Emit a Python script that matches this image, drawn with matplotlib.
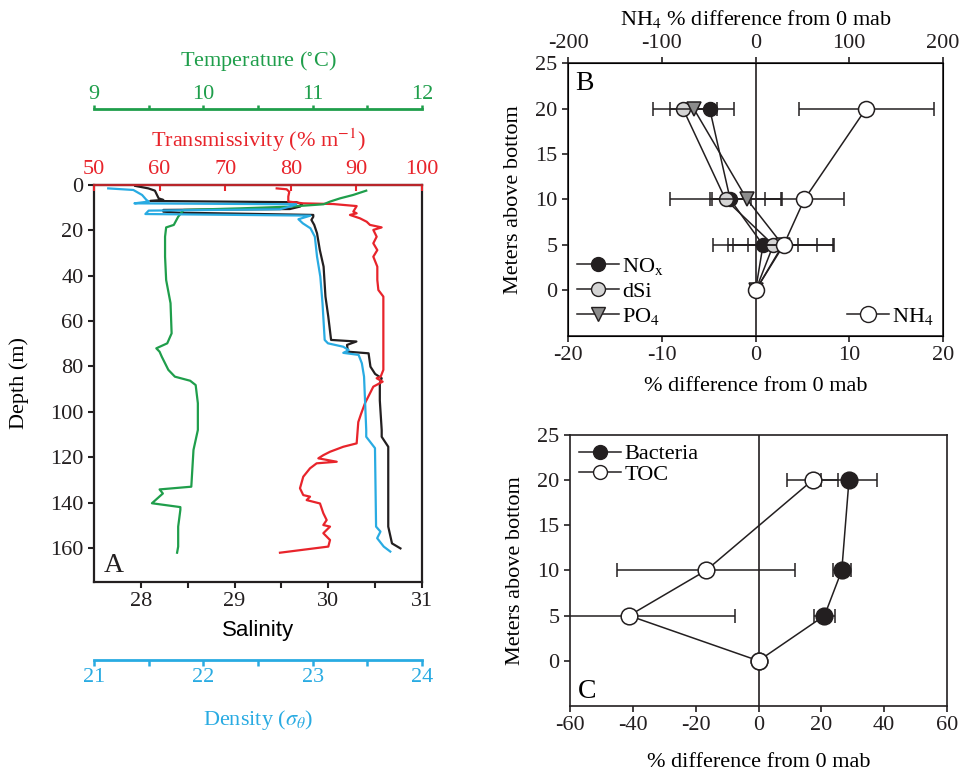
import numpy as np
import matplotlib
matplotlib.use('Agg')
import matplotlib.pyplot as plt
from matplotlib.lines import Line2D

plt.rcParams['font.family'] = ['Liberation Serif', 'DejaVu Serif']
plt.rcParams['mathtext.fontset'] = 'stix'
plt.rcParams['font.size'] = 16
plt.rcParams['axes.unicode_minus'] = False

# ---------------- Panel A data (depth in m) ----------------
sal_depth = [0.4, 1.5, 2.5, 5.9, 6.6, 7.05, 7.6, 8.5, 9.5, 10.6, 11.0, 11.75, 12.2, 13.2, 14.0,
             15.4, 17.6, 21.3, 28.7, 36.0, 49.2, 58.0, 68.3, 69.0, 70.5, 73.5, 74.2, 80.1, 83.3,
             85.2, 87.4, 95.0, 108.0, 111.0, 115.4, 150.6, 158.0, 160.2]
salinity = [27.94, 28.08, 28.15, 28.19, 28.24, 28.10, 29.66, 29.72, 29.70, 29.59, 28.24, 28.24, 28.40,
            29.84, 29.84, 29.82, 29.85, 29.88, 29.91, 29.95, 29.97, 30.00, 30.03, 30.30, 30.20, 30.21,
            30.43, 30.45, 30.50, 30.57, 30.55, 30.55, 30.57, 30.57, 30.64, 30.64, 30.68, 30.77]

dens_depth = [1.5, 2.2, 4.4, 6.6, 7.3, 8.1, 8.5, 9.55, 10.7, 11.3, 12.8, 13.5, 15.1, 16.9, 19.1,
              22.8, 31.6, 40.4, 52.1, 68.3, 69.8, 71.3, 72.8, 74.0, 74.9, 78.6, 84.5, 96.2, 108.0,
              111.0, 116.0, 150.6, 152.8, 155.7, 159.4, 161.6]
density = [21.13, 21.36, 21.44, 21.48, 21.50, 21.37, 22.85, 22.79, 22.70, 21.50, 21.47, 22.98, 22.87,
           22.91, 22.98, 23.02, 23.04, 23.07, 23.09, 23.11, 23.14, 23.28, 23.33, 23.28, 23.42, 23.45,
           23.47, 23.48, 23.49, 23.49, 23.57, 23.58, 23.62, 23.59, 23.65, 23.71]

trans_depth = [1.5, 1.9, 3.0, 5.1, 7.3, 8.1, 8.4, 9.3, 11.75, 12.5, 13.2, 14.7, 16.2, 17.6, 18.7,
               19.8, 22.8, 25.7, 28.7, 31.6, 36.0, 41.9, 46.3, 49.2, 81.5, 84.5, 85.2, 86.7, 88.9,
               96.2, 101.0, 104.5, 113.9, 115.4, 117.6, 119.1, 120.5, 122.0, 122.7, 124.9, 128.6,
               133.7, 136.7, 137.4, 138.9, 140.4, 144.7, 147.7, 149.9, 150.6, 153.5, 156.5, 159.4, 162.1]
transmissivity = [77.85, 79.37, 79.77, 79.62, 79.62, 81.9, 86.48, 90.04, 89.53, 90.04, 89.02, 90.55,
                  91.57, 92.07, 93.85, 92.58, 93.09, 92.58, 93.19, 92.58, 93.19, 93.19, 93.35, 94.11,
                  94.11, 93.7, 93.09, 94.0, 92.58, 91.31, 90.7, 90.29, 90.04, 88.0, 85.98, 84.96, 84.2,
                  87.0, 83.94, 82.93, 81.9, 81.4, 81.9, 82.93, 82.42, 84.45, 84.96, 85.47, 84.96, 85.98,
                  84.96, 85.98, 85.72, 78.35]

temp_depth = [2.5, 4.4, 5.9, 7.3, 8.5, 9.55, 10.3, 11.0, 14.0, 17.6, 18.7, 22.8, 31.6, 41.9, 52.1,
              65.4, 69.8, 72.0, 73.5, 75.7, 81.5, 84.5, 86.3, 88.2, 96.2, 108.0, 116.8, 133.0, 134.2,
              136.0, 140.3, 142.0, 143.2, 150.6, 159.4, 162.1]
temperature = [11.49, 11.37, 11.25, 11.16, 11.10, 10.79, 10.34, 9.82, 9.77, 9.73, 9.66, 9.65, 9.65,
               9.66, 9.70, 9.71, 9.67, 9.57, 9.60, 9.62, 9.68, 9.74, 9.88, 9.93, 9.95, 9.95, 9.91,
               9.89, 9.60, 9.63, 9.53, 9.79, 9.79, 9.77, 9.77, 9.76]

# ---------------- Panel B data ----------------
mab_b = [0, 5, 10, 20]
nox = [0, 0.8, -2.7, -4.9]
nox_err = [0, 3.7, 2.2, 2.55]
dsi = [0, 1.9, -3.2, -7.75]
dsi_err = [0, 6.4, 5.9, 3.15]
po4 = [0, 2.9, -0.9, -6.6]
po4_err = [0, 3.7, 3.7, 2.5]
nh4 = [0, 30, 52, 118]
nh4_err = [0, 54, 42, 72]

# ---------------- Panel C data ----------------
mab_c = [0, 5, 10, 20]
bacteria = [0, 21.0, 26.5, 28.8]
bacteria_err = [0, 3.3, 2.9, 8.9]
toc = [0, -41.2, -16.7, 17.2]
toc_err = [0, 33.8, 28.3, 8.2]

BLACK = '#231f20'
BLUE = '#29abe2'
RED = '#e8242b'
GREEN = '#1f9e4b'

fig = plt.figure(figsize=(9.73, 7.74), dpi=100)

# ======== Panel A ========
ax = fig.add_axes([0.0966, 0.2481, 0.3371, 0.5129])
ax.set_xlim(27.5, 31)
ax.set_ylim(175, 0)
ax.set_xticks([28, 29, 30, 31])
ax.set_xticks([28.5, 29.5, 30.5], minor=True)
ax.set_yticks(list(range(0, 161, 20)))
ax.tick_params(axis='both', which='both', direction='out', length=4, width=1.5, colors=BLACK)
ax.tick_params(axis='x', pad=3)
for s in ax.spines.values():
    s.set_linewidth(1.6)
    s.set_color(BLACK)
ax.set_xlabel('Salinity', family=['Liberation Sans', 'DejaVu Sans'], labelpad=7)
ax.set_ylabel('Depth (m)', labelpad=15)
ax.plot(salinity, sal_depth, color=BLACK, lw=1.6, zorder=3)
ax.text(0.03, 0.025, 'A', transform=ax.transAxes, fontsize=20, color=BLACK)

# transmissivity (top, red)
ax_t = ax.twiny()
ax_t.set_xlim(50, 100)
ax_t.set_xticks(list(range(50, 101, 10)))
ax_t.tick_params(axis='x', colors=RED, direction='in', length=4, width=1.5, pad=4)
ax_t.spines['top'].set_color('#b8252a')
ax_t.spines['top'].set_linewidth(1.6)
for k in ['left', 'right', 'bottom']:
    ax_t.spines[k].set_visible(False)
ax_t.set_xlabel('Transmissivity (% m$^{-1}$)', color=RED, labelpad=10)
ax_t.plot(transmissivity, trans_depth, color=RED, lw=1.6)

# temperature (detached top axis, green)
ax_tp = ax.twiny()
ax_tp.set_xlim(9, 12)
ax_tp.set_xticks([9, 10, 11, 12])
ax_tp.set_xticks([9.5, 10.5, 11.5], minor=True)
ax_tp.spines['top'].set_position(('outward', 55))
ax_tp.spines['top'].set_color(GREEN)
ax_tp.spines['top'].set_linewidth(2.0)
for k in ['left', 'right', 'bottom']:
    ax_tp.spines[k].set_visible(False)
ax_tp.tick_params(axis='x', which='both', colors=GREEN, direction='out', length=3, width=1.8, pad=0)
ax_tp.set_xlabel('Temperature ($^{\\circ}$C)', color=GREEN, labelpad=14)
ax_tp.plot(temperature, temp_depth, color=GREEN, lw=1.6)

# density (detached bottom axis, blue)
ax_d = ax.twiny()
ax_d.xaxis.set_ticks_position('bottom')
ax_d.xaxis.set_label_position('bottom')
ax_d.set_xlim(21, 24)
ax_d.set_xticks([21, 22, 23, 24])
ax_d.set_xticks([21.5, 22.5, 23.5], minor=True)
ax_d.spines['bottom'].set_position(('outward', 56))
ax_d.spines['bottom'].set_color(BLUE)
ax_d.spines['bottom'].set_linewidth(2.0)
for k in ['left', 'right', 'top']:
    ax_d.spines[k].set_visible(False)
ax_d.tick_params(axis='x', which='both', colors=BLUE, direction='out', length=4, width=1.8, pad=2)
ax_d.set_xlabel('Density ($\\sigma_{\\theta}$)', color=BLUE, labelpad=15)
ax_d.plot(density, dens_depth, color=BLUE, lw=1.6)

# ======== Panel B ========
axb = fig.add_axes([0.5838, 0.5659, 0.3854, 0.3527])
axb.set_xlim(-20, 20)
axb.set_ylim(-5, 25)
axb.set_xticks([-20, -10, 0, 10, 20])
axb.set_yticks([0, 5, 10, 15, 20, 25])
axb.axvline(0, color=BLACK, lw=1.2, zorder=1)
for s in axb.spines.values():
    s.set_linewidth(1.2)
    s.set_color(BLACK)
axb.tick_params(direction='out', length=4, width=1.2, colors=BLACK)
axb.set_xlabel('% difference from 0 mab', labelpad=8)
axb.set_ylabel('Meters above bottom', labelpad=9)
ekw = dict(color=BLACK, lw=1.1, elinewidth=1.1, capsize=5, capthick=1.1, mec=BLACK, mew=1.1)
axb.errorbar(nox, mab_b, xerr=nox_err, fmt='-o', mfc=BLACK, ms=10, zorder=3, **ekw)
axb.errorbar(dsi, mab_b, xerr=dsi_err, fmt='-o', mfc='#d4d4d4', ms=10, zorder=4, **ekw)
axb.errorbar(po4, mab_b, xerr=po4_err, fmt='-v', mfc='#8c8c8c', ms=10, zorder=5, **ekw)
axb.text(0.02, 0.9, 'B', transform=axb.transAxes, fontsize=20)

h_nox = Line2D([], [], color=BLACK, lw=1.1, marker='o', mfc=BLACK, mec=BLACK, ms=10)
h_dsi = Line2D([], [], color=BLACK, lw=1.1, marker='o', mfc='#d4d4d4', mec=BLACK, ms=10)
h_po4 = Line2D([], [], color=BLACK, lw=1.1, marker='v', mfc='#8c8c8c', mec=BLACK, ms=10)
axb.legend([h_nox, h_dsi, h_po4], ['NO$_{\\rm x}$', 'dSi', 'PO$_4$'], loc='lower left',
           frameon=False, handlelength=1.9, handletextpad=0.15, labelspacing=0.2,
           borderaxespad=0.2, borderpad=0.2, fontsize=16)

axb2 = axb.twiny()
axb2.set_xlim(-200, 200)
axb2.set_xticks([-200, -100, 0, 100, 200])
axb2.tick_params(direction='out', length=4, width=1.2, colors=BLACK)
axb2.set_xlabel('NH$_4$ % difference from 0 mab', labelpad=6)
axb2.errorbar(nh4, mab_b, xerr=nh4_err, fmt='-o', mfc='white', ms=11.5, zorder=5, **ekw)
h_nh4 = Line2D([], [], color=BLACK, lw=1.1, marker='o', mfc='white', mec=BLACK, ms=11.5)
axb2.legend([h_nh4], ['NH$_4$'], loc='lower right', frameon=False, handlelength=1.9,
            handletextpad=0.15, borderaxespad=0.2, borderpad=0.2, fontsize=16)

# ======== Panel C ========
axc = fig.add_axes([0.5858, 0.0879, 0.3875, 0.3501])
axc.set_xlim(-60, 60)
axc.set_ylim(-5, 25)
axc.set_xticks([-60, -40, -20, 0, 20, 40, 60])
axc.set_yticks([0, 5, 10, 15, 20, 25])
axc.axvline(0, color=BLACK, lw=1.2, zorder=1)
for s in axc.spines.values():
    s.set_linewidth(1.2)
    s.set_color(BLACK)
axc.tick_params(direction='out', length=4, width=1.2, colors=BLACK)
axc.set_xlabel('% difference from 0 mab', labelpad=13)
axc.set_ylabel('Meters above bottom', labelpad=9)
axc.errorbar(bacteria, mab_c, xerr=bacteria_err, fmt='-o', mfc=BLACK, ms=12, zorder=3, **ekw)
axc.errorbar(toc, mab_c, xerr=toc_err, fmt='-o', mfc='white', ms=12, zorder=4, **ekw)
axc.text(0.02, 0.03, 'C', transform=axc.transAxes, fontsize=20)
h_bac = Line2D([], [], color=BLACK, lw=1.1, marker='o', mfc=BLACK, mec=BLACK, ms=10)
h_toc = Line2D([], [], color=BLACK, lw=1.1, marker='o', mfc='white', mec=BLACK, ms=10)
axc.legend([h_bac, h_toc], ['Bacteria', 'TOC'], loc='upper left', frameon=False, handlelength=1.9,
           handletextpad=0.15, labelspacing=0.0, borderaxespad=0.2, borderpad=0.2, fontsize=16)

fig.savefig('out.png', dpi=100)
